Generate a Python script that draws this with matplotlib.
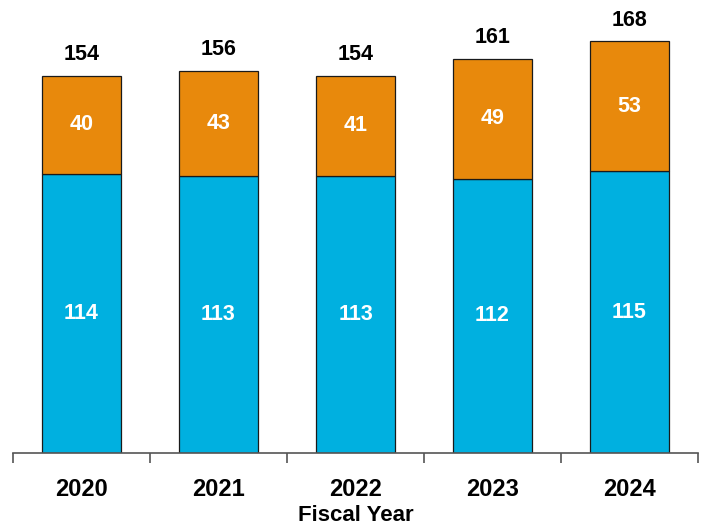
import numpy as np
import matplotlib.pyplot as plt

plt.rcParams['font.family'] = ['Liberation Sans', 'DejaVu Sans']

years = ["2020", "2021", "2022", "2023", "2024"]
bottom_vals = [114, 113, 113, 112, 115]
top_vals = [40, 43, 41, 49, 53]
totals = [154, 156, 154, 161, 168]

blue = "#00B0E0"
orange = "#E8890C"

fig = plt.figure(figsize=(7.07, 5.29), dpi=100)
ax = fig.add_axes([13 / 707, 76 / 529, 685 / 707, 453 / 529])

x = np.arange(len(years))
w = 0.58
b1 = ax.bar(x, bottom_vals, w, color=blue, edgecolor="#1a1a1a", linewidth=0.9)
b2 = ax.bar(x, top_vals, w, bottom=bottom_vals, color=orange, edgecolor="#1a1a1a", linewidth=0.9)

for i in range(len(years)):
    ax.text(x[i], bottom_vals[i] / 2, str(bottom_vals[i]), ha="center", va="center",
            color="white", fontsize=15.5, fontweight="bold")
    ax.text(x[i], bottom_vals[i] + top_vals[i] / 2, str(top_vals[i]), ha="center", va="center",
            color="white", fontsize=15.5, fontweight="bold")
    ax.annotate(str(totals[i]), (x[i], bottom_vals[i] + top_vals[i]), xytext=(0, 15),
                textcoords="offset points", ha="center", va="center",
                fontsize=15.5, fontweight="bold", color="black")

ax.set_xlim(-0.5, len(years) - 0.5)
ax.set_ylim(0, 453 / 2.45)

for s in ["top", "right", "left"]:
    ax.spines[s].set_visible(False)
ax.spines["bottom"].set_color("#555555")
ax.spines["bottom"].set_linewidth(1.2)
ax.set_yticks([])

ax.set_xticks(x)
ax.set_xticklabels(years, fontsize=17, fontweight="bold")
ax.tick_params(axis="x", which="major", length=0, pad=18)
ax.set_xticks(np.arange(-0.5, len(years), 1.0), minor=True)
ax.tick_params(axis="x", which="minor", length=7, width=1.2, color="#555555", direction="out")

ax.set_xlabel("Fiscal Year", fontsize=16, fontweight="bold", labelpad=3)

plt.savefig("out.png", dpi=100)
